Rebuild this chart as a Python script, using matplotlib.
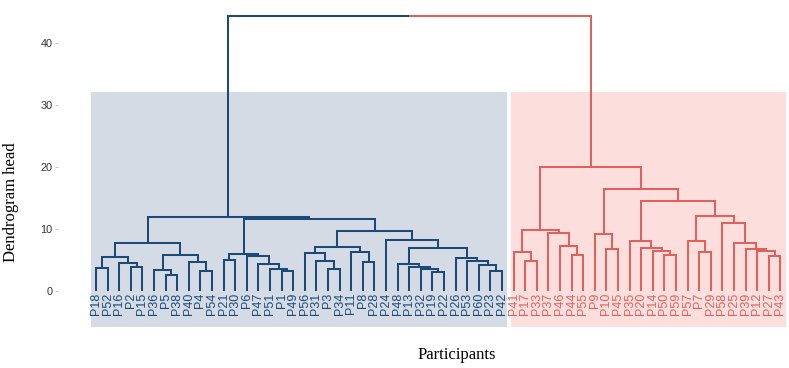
import matplotlib
matplotlib.use("Agg")
import matplotlib.pyplot as plt
from matplotlib.patches import Rectangle

# ---------------- data ----------------
# subtrees: (merge height, left, right); leaves are participant labels
A1 = (5.5, (3.7, "P18", "P52"), (4.5, "P16", (3.9, "P2", "P15")))
A2 = (5.8, (3.4, "P36", (2.5, "P5", "P38")), (4.6, "P40", (3.3, "P4", "P54")))
A = (7.7, A1, A2)
C = (5.9, (5.0, "P21", "P30"),
     (5.6, "P6", (4.3, "P47", (3.6, "P51", (3.3, "P1", "P49")))))
D1 = (7.1, (6.1, "P56", (4.9, "P31", (3.5, "P3", "P34"))),
      (6.3, "P11", (4.6, "P8", "P28")))
D2 = (8.2, "P24",
      (6.9, (4.3, "P48", (3.9, "P13", (3.5, "P32", (3.1, "P19", "P22")))),
       (5.3, "P26", (4.8, "P53", (4.2, "P60", (3.3, "P23", "P42"))))))
D = (9.7, D1, D2)
B = (11.6, C, D)
left_cluster = (11.9, A, B)

R1 = (9.8, (6.3, "P41", (4.8, "P17", "P33")),
      (9.3, "P37", (7.3, "P46", (5.8, "P44", "P55"))))
R2 = (9.1, "P9", (6.7, "P10", "P45"))
R3 = (8.05, "P35", (7.0, "P20", (6.5, "P14", (5.8, "P50", "P59"))))
R4 = (8.1, "P57", (6.2, "P7", "P29"))
R5 = (11.0, "P58", (7.7, "P25", (6.7, "P39", (6.5, "P12", (5.6, "P27", "P43")))))
right_cluster = (20.0, R1, (16.4, R2, (14.5, R3, (12.1, R4, R5))))

root_height = 44.3
y_ticks = [0, 10, 20, 30, 40]
rect_top = 32.0
rect_bottom = -5.8

# ---------------- style ----------------
blue = "#1B4A78"
red = "#E0615C"
blue_fill = "#D4DBE5"
red_fill = "#FCDEDC"
lw = 1.45

fig = plt.figure(figsize=(7.89, 3.68), dpi=100)
W, H = 789, 368
x_left_px, x_right_px = 58, 787.4
y_top_px, y_bot_px = 2.2, 350
ax = fig.add_axes([x_left_px / W, 1 - y_bot_px / H,
                   (x_right_px - x_left_px) / W, (y_bot_px - y_top_px) / H])
ax.set_xlim(-3.28, 59.6)
ax.set_ylim(-9.5, 46.5)

leaf_x = {}
counter = [0]


def layout(node):
    if isinstance(node, str):
        leaf_x[node] = counter[0]
        counter[0] += 1
        return
    layout(node[1])
    layout(node[2])


def pos(node):
    if isinstance(node, str):
        return leaf_x[node], 0.0
    return (pos(node[1])[0] + pos(node[2])[0]) / 2, node[0]


def draw(node, color):
    if isinstance(node, str):
        return
    h = node[0]
    xl, hl = pos(node[1])
    xr, hr = pos(node[2])
    ax.plot([xl, xl, xr, xr], [hl, h, h, hr], color=color, lw=lw,
            solid_joinstyle="miter", solid_capstyle="butt", zorder=3)
    draw(node[1], color)
    draw(node[2], color)


layout(left_cluster)
n_left = counter[0]
layout(right_cluster)
n_total = counter[0]

# cluster rectangles
ax.add_patch(Rectangle((-0.43, rect_bottom), n_left - 1 + 0.86, rect_top - rect_bottom,
                       facecolor=blue_fill, edgecolor="none", zorder=1))
ax.add_patch(Rectangle((n_left - 0.22, rect_bottom), (n_total - 1) - n_left + 0.7,
                       rect_top - rect_bottom, facecolor=red_fill, edgecolor="none", zorder=1))

draw(left_cluster, blue)
draw(right_cluster, red)

# root
xl, hl = pos(left_cluster)
xr, hr = pos(right_cluster)
xm = (xl + xr) / 2
ax.plot([xl, xl, xm], [hl, root_height, root_height], color=blue, lw=lw,
        solid_joinstyle="miter", solid_capstyle="butt", zorder=3)
ax.plot([xm, xr, xr], [root_height, root_height, hr], color=red, lw=lw,
        solid_joinstyle="miter", solid_capstyle="butt", zorder=3)

# leaf labels
for name, x in leaf_x.items():
    col = blue if x < n_left else red
    ax.text(x, -0.25, name, rotation=90, ha="center", va="top", fontsize=9,
            color=col, family=["Liberation Sans", "DejaVu Sans"], zorder=4)

for s in ax.spines.values():
    s.set_visible(False)
ax.set_xticks([])
ax.set_yticks(y_ticks)
ax.set_yticklabels([str(t) for t in y_ticks], family="Liberation Sans",
                   fontsize=7.8, color="#333333")
ax.tick_params(axis="y", length=2, width=0.6, color="#BBBBBB", pad=2)

fig.text(11 / W, 1 - 202 / H, "Dendrogram head", rotation=90, ha="center", va="center",
         fontsize=12, family="Liberation Serif", color="black")
fig.text(457 / W, 1 - 355 / H, "Participants", ha="center", va="center",
         fontsize=12, family="Liberation Serif", color="black")

fig.savefig("out.png", dpi=100, facecolor="white")
